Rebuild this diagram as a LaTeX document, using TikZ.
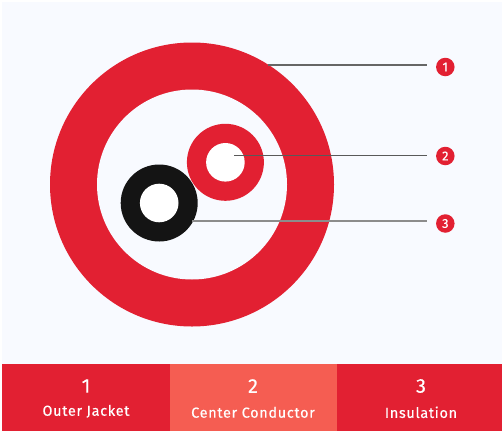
\documentclass[tikz,border=0pt]{standalone}
\usepackage{fontspec}
\setmainfont{Fira Sans}
\newfontfamily\dinlike[FakeBold=0.25,LetterSpace=4.5]{Fira Sans}
\newfontfamily\dinnum[FakeBold=0.25]{Fira Sans}
\definecolor{bgc}{HTML}{F8FAFF}
\definecolor{redc}{HTML}{E22032}
\definecolor{salmon}{HTML}{F55D52}
\definecolor{blk}{HTML}{141414}
\tikzset{
  ring/.style={circle,draw=none,fill=#1,minimum size=77pt,inner sep=0pt,outer sep=0pt},
  hole/.style={circle,draw=none,fill=white,minimum size=38.6pt,inner sep=0pt},
  badge/.style={circle,fill=redc,text=white,minimum size=18.5pt,inner sep=0pt,font=\dinnum\fontsize{13}{13}\selectfont},
  leader/.style={draw=#1,line width=1.1pt},
  band/.style={draw=none,fill=#1,inner sep=0pt,outer sep=0pt,minimum height=67pt,anchor=north west},
  numtext/.style={text=white,font=\dinnum\fontsize{20}{20}\selectfont,inner sep=0pt},
  labtext/.style={text=white,font=\dinlike\fontsize{14.5}{15}\selectfont,inner sep=0pt}
}
\begin{document}
\begin{tikzpicture}[x=1pt,y=-1pt]
\useasboundingbox (0,0) rectangle (502,431);
\fill[bgc] (2,2) rectangle (502,364);
\node[circle,fill=redc,minimum size=284pt,inner sep=0pt] (outer) at (192,184.5) {};
\node[circle,fill=bgc,minimum size=190pt,inner sep=0pt] (innerbg) at (192,184.5) {};
\node[ring=redc] (redring) at (225.4,162.3) {};
\node[hole] (redhole) at (225.4,162.3) {};
\node[ring=blk] (blackring) at (159.2,203) {};
\node[hole] (blackhole) at (159.2,203) {};
\node[badge] (b1) at (445.3,67) {1};
\node[badge] (b2) at (445.3,156) {2};
\node[badge] (b3) at (445.3,223.5) {3};
\coordinate (s1) at (268,65);
\coordinate (e1) at (427,65);
\coordinate (s2) at (234,155.7);
\coordinate (e2) at (427,155.7);
\coordinate (s3) at (192,221);
\coordinate (e3) at (427,221);
\draw[leader=black!60] (s1) -- (e1);
\draw[leader=black!65] (s2) -- (e2);
\draw[leader=black!45,line width=1.3pt] (s3) -- (e3);
\node[band=redc,minimum width=168pt] (p1) at (2,364) {};
\node[band=salmon,minimum width=167pt] (p2) at (170,364) {};
\node[band=redc,minimum width=165pt] (p3) at (337,364) {};
\node[numtext] (n1) at (86,386) {1};
\node[numtext] (n2) at (253,386) {2};
\node[numtext] (n3) at (421,386) {3};
\node[labtext] (l1) at (86,411.3) {Outer Jacket};
\node[labtext] (l2) at (253,412.3) {Center Conductor};
\node[labtext] (l3) at (421,412.3) {Insulation};
\end{tikzpicture}
\end{document}
